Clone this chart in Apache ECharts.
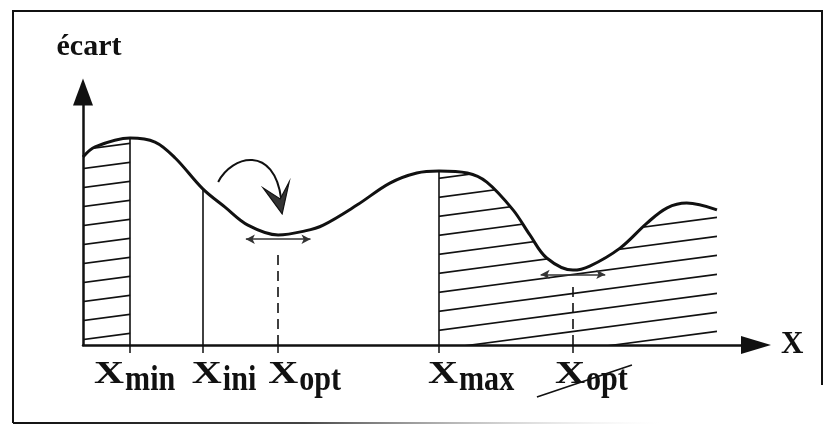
<!DOCTYPE html>
<html>
<head>
<meta charset="utf-8">
<script src="https://cdn.jsdelivr.net/npm/echarts@6/dist/echarts.min.js"></script>
<style>html,body{margin:0;padding:0;background:#fff}#c{width:832px;height:432px}</style>
</head>
<body>
<div id="c"></div>
<script>
// ---- data (x: 0..100 along the X axis, y: 0..100 "écart") ----
const curveX = [0, 1.8, 7.0, 10.7, 13.7, 17.8, 21.1, 24.5, 29.0, 33.0, 35.7, 40.7, 45.6, 49.6, 52.9, 57.1, 60.0, 63.9, 66.4, 68.9, 72.8, 75.3, 79.8, 83.8, 86.8, 89.7, 94.2];
const curveY = [74.3, 78.3, 81.8, 80.2, 73.9, 61.7, 54.5, 47.4, 43.5, 45.1, 47.4, 55.3, 64.0, 68.0, 68.8, 68.0, 64.4, 53.4, 43.5, 34.4, 29.6, 31.2, 38.3, 48.2, 54.2, 56.1, 53.4];
const markerX = [7.0, 17.8, 29.0, 52.9, 72.8];
const markerBase = ['X', 'X', 'X', 'X', 'X'];
const markerSub = ['min', 'ini', 'opt', 'max', 'opt'];
const markerKind = ['solid', 'solid', 'dashed', 'solid', 'dashed'];
const markerStruck = [false, false, false, false, true];
const optX = [29.0, 72.8];
const xMinValue = 7.0;
const xMaxValue = 52.9;
const yAxisName = 'écart';
const xAxisName = 'X';

// ---- build ----
const FONT = "'Liberation Serif','Times New Roman',serif";
const INK = '#111';
const curve = curveX.map((x, i) => [x, curveY[i]]);
const leftArea = curve.filter(p => p[0] <= xMinValue);
const rightArea = curve.filter(p => p[0] >= xMaxValue);
const yAt = x => curveY[curveX.indexOf(x)];

function makeHatch() {
  const W = 143, H = 19, s = H / W, ph = 8.6;
  const c = document.createElement('canvas');
  c.width = W; c.height = H;
  const g = c.getContext('2d');
  g.strokeStyle = INK; g.lineWidth = 1.6;
  for (let k = -1; k <= 2; k++) {
    g.beginPath();
    g.moveTo(-4, ph + k * H + 4 * s);
    g.lineTo(W + 4, ph + k * H - (W + 4) * s);
    g.stroke();
  }
  return c;
}
const hatch = makeHatch();

const solidLines = [], dashedLines = [];
markerX.forEach((x, i) => {
  if (markerKind[i] === 'solid') solidLines.push([{ coord: [x, 0] }, { coord: [x, yAt(x)] }]);
  else dashedLines.push([{ coord: [x, 0] }, { coord: [x, yAt(x) - 5.8] }]);
});
const doubleArrows = optX.map(x => [{ coord: [x - 4.8, yAt(x) - 1.7] }, { coord: [x + 4.8, yAt(x) - 1.7] }]);

const chart = echarts.init(document.getElementById('c'), null, { renderer: 'canvas' });
const option = {
  animation: false,
  backgroundColor: '#fff',
  grid: { left: 83, right: 76, top: 92, bottom: 87 },
  xAxis: {
    type: 'value', min: 0, max: 100,
    name: xAxisName, nameLocation: 'end', nameGap: 25,
    nameTextStyle: { fontFamily: FONT, fontWeight: 'bold', fontSize: 31, color: INK, verticalAlign: 'middle', padding: [14, 0, 0, 0] },
    axisLine: { show: true, onZero: false, symbol: ['none', 'triangle'], symbolSize: [18, 30], lineStyle: { color: INK, width: 2.5 } },
    axisTick: { show: true, customValues: markerX, length: 8, inside: false, lineStyle: { color: INK, width: 1.5 } },
    axisLabel: { show: false },
    splitLine: { show: false }
  },
  yAxis: {
    type: 'value', min: 0, max: 100,
    name: yAxisName, nameLocation: 'end', nameGap: 30,
    nameTextStyle: { fontFamily: FONT, fontWeight: 'bold', fontSize: 30, color: INK, padding: [0, 0, 0, 12] },
    axisLine: { show: true, onZero: false, symbol: ['none', 'triangle'], symbolSize: [20, 27], lineStyle: { color: INK, width: 2.5 } },
    axisTick: { show: false }, axisLabel: { show: false }, splitLine: { show: false }
  },
  series: [
    {
      type: 'line', data: leftArea, smooth: 0.35, symbol: 'none', silent: true, z: 1,
      lineStyle: { width: 0, opacity: 0 },
      areaStyle: { color: { image: hatch, repeat: 'repeat' }, opacity: 1 },
      markLine: {
        silent: true, symbol: ['none', 'none'], label: { show: false },
        lineStyle: { color: INK, width: 1.6, type: [10, 6] },
        data: dashedLines
      }
    },
    {
      type: 'line', data: rightArea, smooth: 0.35, symbol: 'none', silent: true, z: 1,
      lineStyle: { width: 0, opacity: 0 },
      areaStyle: { color: { image: hatch, repeat: 'repeat' }, opacity: 1 },
      markLine: {
        silent: true, symbol: ['arrow', 'arrow'], symbolSize: [7, 9], label: { show: false },
        lineStyle: { color: '#333', width: 1.5, type: 'solid' },
        data: doubleArrows
      }
    },
    {
      type: 'line', data: curve, smooth: 0.35, symbol: 'none', silent: true, z: 3,
      lineStyle: { color: INK, width: 3 },
      markLine: {
        silent: true, symbol: ['none', 'none'], label: { show: false },
        lineStyle: { color: INK, width: 1.6, type: 'solid' },
        data: solidLines
      }
    }
  ]
};
chart.setOption(option);

// ---- annotations placed through the chart's own scales ----
const px = v => chart.convertToPixel({ gridIndex: 0 }, v);
const axisY = px([0, 0])[1];
const labelShift = [-36, -11, -10, -11, -18];
const graphics = [];
markerX.forEach((x, i) => {
  const p = px([x, 0]);
  const left = p[0] + labelShift[i];
  graphics.push({ type: 'text', x: left, y: axisY + 30, scaleX: 1.3, silent: true,
    style: { text: markerBase[i], fontFamily: FONT, fontWeight: 'bold', fontSize: 32, fill: INK, align: 'left', verticalAlign: 'middle' } });
  graphics.push({ type: 'text', x: left + 31, y: axisY + 36, scaleX: 0.86, silent: true,
    style: { text: markerSub[i], fontFamily: FONT, fontWeight: 'bold', fontSize: 35, fill: INK, align: 'left', verticalAlign: 'middle' } });
  if (markerStruck[i]) {
    graphics.push({ type: 'line', silent: true,
      shape: { x1: p[0] - 36, y1: axisY + 52, x2: p[0] + 59, y2: axisY + 20 },
      style: { stroke: INK, lineWidth: 1.6 } });
  }
});
// curved arrow towards the first optimum
const a = px([optX[0], yAt(optX[0])]);
graphics.push({ type: 'bezierCurve', silent: true,
  shape: { x1: a[0] - 60, y1: a[1] - 53, cpx1: a[0] - 46, cpy1: a[1] - 80, cpx2: a[0] - 4, cpy2: a[1] - 90, x2: a[0] + 3, y2: a[1] - 36 },
  style: { stroke: INK, lineWidth: 2, fill: null } });
graphics.push({ type: 'polygon', silent: true,
  shape: { points: [[a[0] + 4, a[1] - 21], [a[0] - 15, a[1] - 47], [a[0] + 2, a[1] - 36], [a[0] + 11, a[1] - 53]] },
  style: { fill: '#333', stroke: INK, lineWidth: 1.2 } });
// frame
graphics.push({ type: 'polyline', silent: true,
  shape: { points: [[822, 385], [822, 11], [13, 11], [13, 423]] },
  style: { stroke: INK, lineWidth: 2, fill: null } });
graphics.push({ type: 'line', silent: true,
  shape: { x1: 13, y1: 423, x2: 660, y2: 423 },
  style: { lineWidth: 2, stroke: { type: 'linear', x: 13, y: 0, x2: 660, y2: 0, global: true,
    colorStops: [{ offset: 0, color: '#111' }, { offset: 0.45, color: '#444' }, { offset: 1, color: 'rgba(220,220,220,0)' }] } } });
chart.setOption({ graphic: graphics });
</script>
</body>
</html>
